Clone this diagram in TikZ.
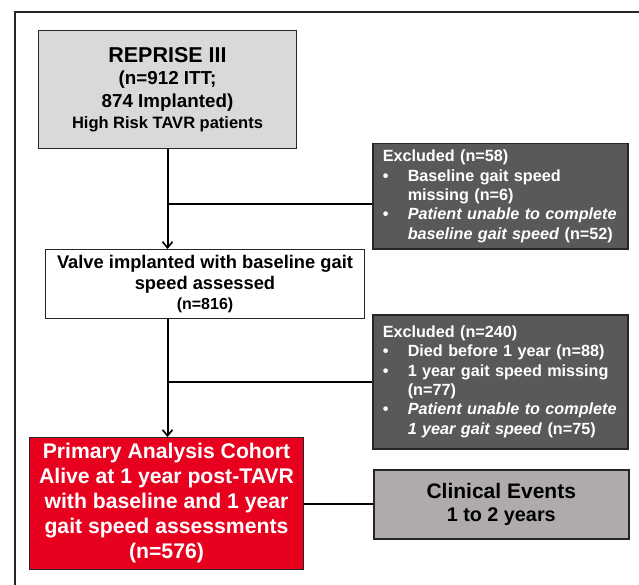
\documentclass[tikz,border=0pt]{standalone}
\usepackage{fontspec}
\setmainfont{Liberation Sans}
\usetikzlibrary{arrows.meta}
\definecolor{boxgray}{HTML}{D9D9D9}
\definecolor{darkbox}{HTML}{595959}
\definecolor{redbox}{HTML}{E8001F}
\definecolor{clingray}{HTML}{AFABAB}
\tikzset{
  bx/.style={draw=black!85, line width=1pt, anchor=north west, align=center, inner sep=0pt},
  exbox/.style={draw=black!85, line width=1.5pt, fill=darkbox, text=white, anchor=north west,
    align=left, inner xsep=10pt, inner ysep=0pt, text width=235pt,
    font=\bfseries\fontsize{16.2}{19.3}\selectfont},
  conn/.style={line width=2pt, black},
  arr/.style={conn, -{Straight Barb[length=6pt,width=10pt,line width=1.6pt]}},
}
\newcommand{\bul}{\makebox[25pt][l]{\textbullet}}
\newcommand{\ind}{\hspace*{25pt}}
\begin{document}
\begin{tikzpicture}[x=1pt,y=-1pt]
\useasboundingbox (0,0) rectangle (639,585);
% outer frame
\draw[line width=1.6pt, black!85] (639,12) -- (15,12) -- (15,585);
% top box
\node[bx, fill=boxgray, minimum width=258pt, minimum height=118pt,
      font=\bfseries\fontsize{18.8}{23}\selectfont] (top) at (38,30)
  {{\fontsize{21.5}{23}\selectfont REPRISE III}\\[-1pt]
   (n=912 ITT;\\
   874 Implanted)\\[-2pt]
   {\fontsize{16.5}{20}\selectfont High Risk TAVR patients}};
% excluded 1
\node[exbox, minimum height=105pt] (ex1) at (372,143)
  {Excluded (n=58)\\
   \bul Baseline gait speed\\
   \ind missing (n=6)\\
   \bul \textit{Patient unable to complete}\\
   \ind \textit{baseline gait speed} (n=52)};
% box 2
\node[bx, fill=white, minimum width=319pt, minimum height=69pt,
      font=\bfseries\fontsize{18.3}{21}\selectfont] (b2) at (45,249)
  {Valve implanted with baseline gait\\
   speed assessed\\[-1pt]
   {\fontsize{16}{18}\selectfont (n=816)}};
% excluded 2
\node[exbox, minimum height=134pt] (ex2) at (372,314)
  {Excluded (n=240)\\
   \bul Died before 1 year (n=88)\\
   \bul 1 year gait speed missing\\
   \ind (n=77)\\
   \bul \textit{Patient unable to complete}\\
   \ind \textit{1 year gait speed} (n=75)};
% red box
\node[bx, fill=redbox, text=white, minimum width=274pt, minimum height=132pt,
      font=\bfseries\fontsize{21.2}{25}\selectfont] (red) at (29,437)
  {Primary Analysis Cohort\\
   Alive at 1 year post-TAVR\\
   with baseline and 1 year\\
   gait speed assessments\\
   (n=576)};
% clinical events
\node[bx, line width=1.5pt, fill=clingray, minimum width=255pt, minimum height=69pt,
      font=\bfseries\fontsize{21}{24}\selectfont] (clin) at (373,469)
  {Clinical Events\\[-1pt]
   {\fontsize{19.8}{22}\selectfont 1 to 2 years}};
% connectors
\draw[arr] (top.south) -- (top.south |- b2.north);
\coordinate (j1) at (167,204);
\draw[conn] (j1) -- (j1 -| ex1.west);
\draw[arr] (b2.south -| top.south) -- (top.south |- red.north);
\coordinate (j2) at (167,382);
\draw[conn] (j2) -- (j2 -| ex2.west);
\draw[conn] (clin.west) -- (clin.west -| red.east);
\end{tikzpicture}
\end{document}
